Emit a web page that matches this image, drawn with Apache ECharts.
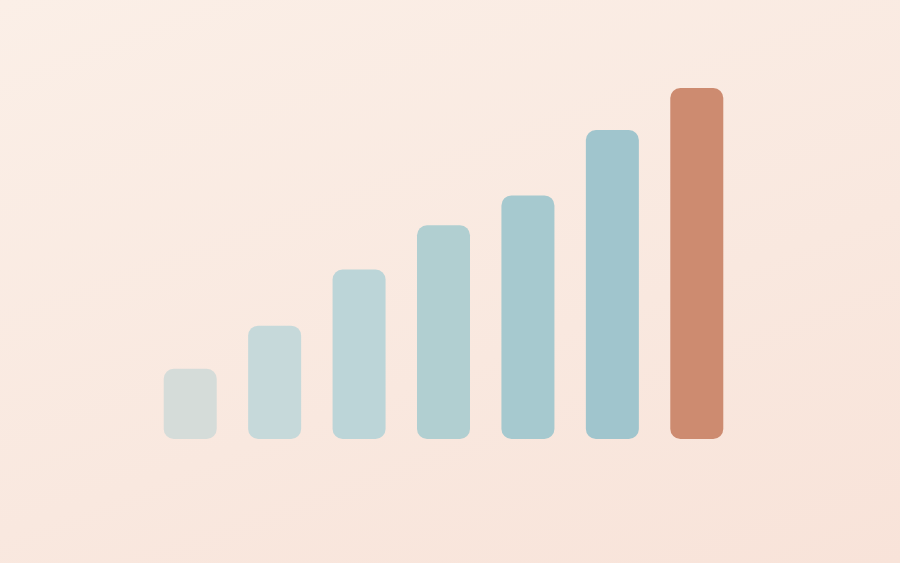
<!DOCTYPE html>
<html><head><meta charset="utf-8">
<script src="https://cdn.jsdelivr.net/npm/echarts@6/dist/echarts.min.js"></script>
<style>html,body{margin:0;padding:0;width:900px;height:563px;overflow:hidden;background:linear-gradient(160deg,#fbefe7 0%,#f9e8df 60%,#f8e3d9 100%);}#c{width:900px;height:563px;}</style>
</head><body><div id="c"></div>
<script>
const categories = ['1','2','3','4','5','6','7'];
const values = [20, 32.3, 48.3, 60.9, 69.4, 88, 100];
const colors = ['#d5dcd9','#c6d9da','#bcd5d8','#b1cfd1','#a6c9cf','#a0c5cd','#cd8b70'];
const chart = echarts.init(document.getElementById('c'));
chart.setOption({
  backgroundColor: 'transparent',
  grid: {left: 148, top: 88, width: 591, height: 351},
  xAxis: {type: 'category', data: categories, show: false},
  yAxis: {type: 'value', min: 0, max: 100, show: false},
  series: [{
    type: 'bar',
    barWidth: 53,
    data: values.map((v, i) => ({value: v, itemStyle: {color: colors[i]}})),
    itemStyle: {borderRadius: 10},
    silent: true
  }],
  animation: false
});
</script></body></html>
